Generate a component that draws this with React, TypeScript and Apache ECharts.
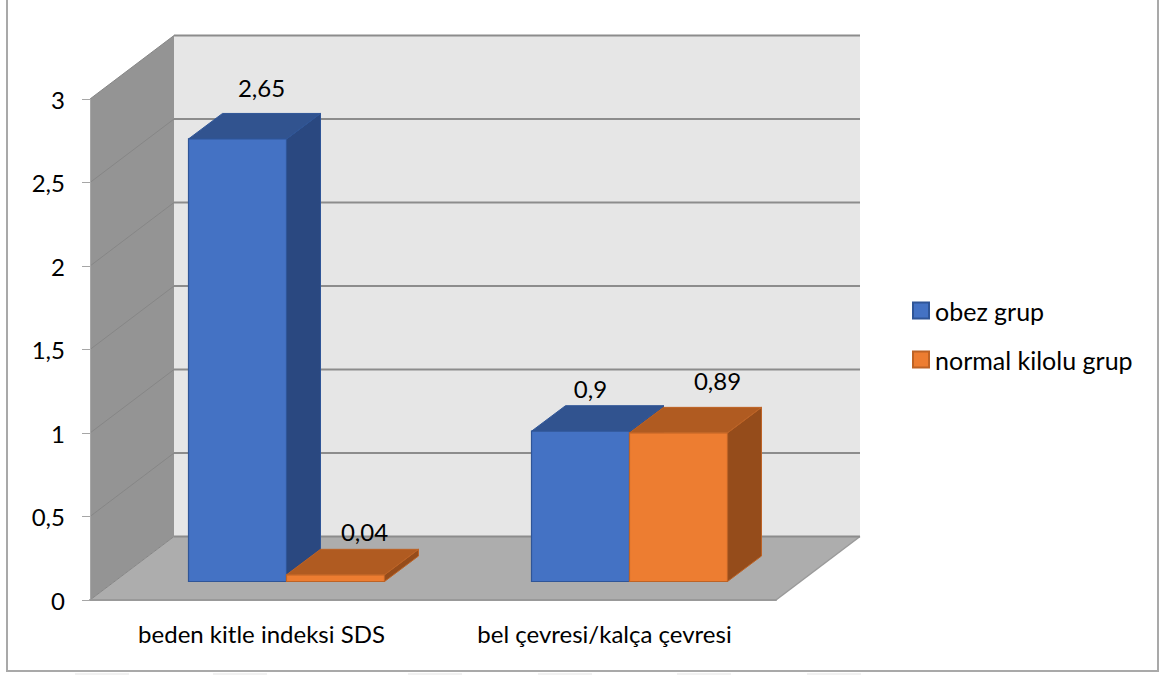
import React, { useEffect, useRef } from "react";
import * as echarts from "echarts";

const categories = ["beden kitle indeksi SDS", "bel çevresi/kalça çevresi"];
const seriesNames = ["obez grup", "normal kilolu grup"];
const obezValues = [2.65, 0.9];
const normalValues = [0.04, 0.89];
const valueTicks = [0, 0.5, 1, 1.5, 2, 2.5, 3];

// Projection of the chart's depth axis, in pixels.
const WALL_DX = 84;
const WALL_DY = 63.5;
const BAR_INSET_DX = 25;
const BAR_INSET_DY = 18.5;
const BAR_DEPTH_DX = 34;
const BAR_DEPTH_DY = 25.5;
const BAR_BAND_RATIO = 0.2857;

const FONT = "Lato, 'Open Sans', sans-serif";
const FONT_SIZE = 24;

const faces = [
  { front: "#4472C4", top: "#31538F", side: "#2A4880", edge: "#2F5597" },
  { front: "#ED7D31", top: "#B05B21", side: "#954C1B", edge: "#BE6325" },
];

// Label offsets from the bar's front-top centre, per series and category.
const labelOffsets = [
  [[24, -51], [10, -43]],
  [[29, -43], [39, -52]],
];

// Pale page marks along the bottom edge, below the chart frame.
const pageMarkStarts = [75, 213, 408, 538, 677, 807];

const comma = (v: number) => String(v).replace(".", ",");

function renderWalls(params: any, api: any) {
  const cs = params.coordSys;
  const left = cs.x;
  const right = cs.x + cs.width;
  const floorY = api.coord([0, 0])[1];
  const topY = api.coord([0, 3])[1];
  const children: any[] = [
    {
      type: "polygon",
      shape: { points: [[left, topY], [left + WALL_DX, topY - WALL_DY], [left + WALL_DX, floorY - WALL_DY], [left, floorY]] },
      style: { fill: "#949494" },
    },
    {
      type: "rect",
      shape: { x: left + WALL_DX, y: topY - WALL_DY, width: cs.width, height: floorY - topY },
      style: { fill: "#E6E6E6" },
    },
    {
      type: "polygon",
      shape: { points: [[left, floorY], [left + WALL_DX, floorY - WALL_DY], [right + WALL_DX, floorY - WALL_DY], [right, floorY]] },
      style: { fill: "#ADADAD" },
    },
    {
      type: "line",
      shape: { x1: right, y1: floorY, x2: right + WALL_DX, y2: floorY - WALL_DY },
      style: { stroke: "#9A9A9A", lineWidth: 1.5 },
    },
  ];
  valueTicks.forEach((tick) => {
    const y = api.coord([0, tick])[1];
    children.push({
      type: "line",
      shape: { x1: left, y1: y, x2: left + WALL_DX, y2: y - WALL_DY },
      style: { stroke: "#868686", lineWidth: 1 },
    });
    children.push({
      type: "line",
      shape: { x1: left + WALL_DX, y1: y - WALL_DY, x2: right + WALL_DX, y2: y - WALL_DY },
      style: { stroke: "#8C8C8C", lineWidth: 1.8 },
    });
  });
  return { type: "group", children };
}

function makeBarRenderer(seriesIndex: number) {
  return (_params: any, api: any) => {
    const category = api.value(0);
    const value = api.value(1);
    const [cx, yTop] = api.coord([category, value]);
    const yBase = api.coord([category, 0])[1];
    const barW = api.size([1, 0])[0] * BAR_BAND_RATIO;
    const x0 = cx + BAR_INSET_DX + (seriesIndex === 0 ? -barW : 0);
    const x1 = x0 + barW;
    const top = yTop - BAR_INSET_DY;
    const base = yBase - BAR_INSET_DY;
    const dx = BAR_DEPTH_DX;
    const dy = BAR_DEPTH_DY;
    const c = faces[seriesIndex];
    const [ox, oy] = labelOffsets[seriesIndex][category];
    return {
      type: "group",
      children: [
        {
          type: "polygon",
          shape: { points: [[x1, top], [x1 + dx, top - dy], [x1 + dx, base - dy], [x1, base]] },
          style: { fill: c.side, stroke: c.edge, lineWidth: 1 },
        },
        {
          type: "polygon",
          shape: { points: [[x0, top], [x0 + dx, top - dy], [x1 + dx, top - dy], [x1, top]] },
          style: { fill: c.top, stroke: c.edge, lineWidth: 1 },
        },
        {
          type: "rect",
          shape: { x: x0, y: top, width: barW, height: base - top },
          style: { fill: c.front, stroke: c.edge, lineWidth: 1.2 },
        },
        {
          type: "text",
          style: {
            text: comma(value),
            x: (x0 + x1) / 2 + ox,
            y: top + oy,
            fill: "#000000",
            font: `${FONT_SIZE}px ${FONT}`,
            align: "center",
            verticalAlign: "middle",
          },
        },
      ],
    };
  };
}

export default function App() {
  const ref = useRef<HTMLDivElement>(null);

  useEffect(() => {
    document.body.style.margin = "0";
    const chart = echarts.init(ref.current!, undefined, { renderer: "svg" });
    const toRows = (vals: number[]) => vals.map((v, i) => [i, v]);
    chart.setOption({
      animation: false,
      backgroundColor: "#FFFFFF",
      grid: { left: 90, right: 387, top: 99, bottom: 75 },
      graphic: [
        {
          type: "rect",
          shape: { x: 7, y: -6, width: 1151, height: 677 },
          style: { fill: "none", stroke: "#A9A9A9", lineWidth: 2 },
          silent: true,
          z: -1,
        },
        ...pageMarkStarts.map((x) => ({
          type: "rect",
          shape: { x, y: 673, width: 54, height: 2 },
          style: { fill: "#F1F1F1" },
          silent: true,
          z: -1,
        })),
      ],
      legend: {
        data: seriesNames,
        orient: "vertical",
        left: 912,
        top: 298,
        padding: 0,
        icon: "rect",
        itemWidth: 16,
        itemHeight: 16,
        itemGap: 24,
        textStyle: { fontFamily: FONT, fontSize: 25, color: "#000000", padding: [0, 0, 0, 1] },
        selectedMode: false,
      },
      xAxis: {
        type: "category",
        data: categories,
        z: 5,
        axisLine: { lineStyle: { color: "#999999", width: 2 } },
        axisTick: { alignWithLabel: false, length: 7, lineStyle: { color: "#A6A6A6", width: 1 } },
        axisLabel: { fontFamily: FONT, fontSize: FONT_SIZE, color: "#000000", margin: 21 },
      },
      yAxis: {
        type: "value",
        min: 0,
        max: 3,
        interval: 0.5,
        z: 5,
        axisLine: { show: true, lineStyle: { color: "#A6A6A6", width: 1 } },
        axisTick: { show: true, length: 8, lineStyle: { color: "#A6A6A6", width: 1 } },
        axisLabel: {
          fontFamily: FONT,
          fontSize: FONT_SIZE,
          color: "#000000",
          margin: 25,
          formatter: (v: number) => comma(v),
        },
        splitLine: { show: false },
      },
      series: [
        {
          type: "custom",
          name: "duvarlar",
          z: 1,
          clip: false,
          silent: true,
          renderItem: renderWalls,
          data: [[0, 0]],
          encode: { x: 0, y: 1 },
        },
        {
          type: "custom",
          name: seriesNames[0],
          z: 6,
          clip: false,
          itemStyle: { color: faces[0].front, borderColor: faces[0].edge, borderWidth: 1 },
          renderItem: makeBarRenderer(0),
          data: toRows(obezValues),
          encode: { x: 0, y: 1 },
        },
        {
          type: "custom",
          name: seriesNames[1],
          z: 7,
          clip: false,
          itemStyle: { color: faces[1].front, borderColor: faces[1].edge, borderWidth: 1 },
          renderItem: makeBarRenderer(1),
          data: toRows(normalValues),
          encode: { x: 0, y: 1 },
        },
      ],
    });
    return () => chart.dispose();
  }, []);

  return <div ref={ref} style={{ width: 1163, height: 675 }} />;
}
